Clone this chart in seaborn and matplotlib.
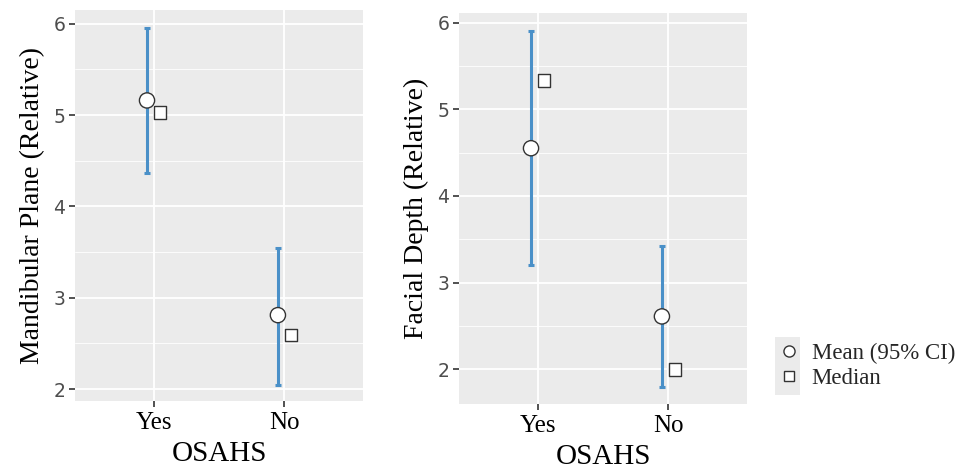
import numpy as np
import pandas as pd
import matplotlib
matplotlib.use("Agg")
import matplotlib.pyplot as plt
import seaborn as sns
from matplotlib.patches import Rectangle
from matplotlib.lines import Line2D

# data
groups = ["Yes", "No"]

mp_mean = [5.16, 2.81]
mp_lo = [4.37, 2.05]
mp_hi = [5.95, 3.55]
mp_median = [5.03, 2.59]

fd_mean = [4.55, 2.61]
fd_lo = [3.20, 1.80]
fd_hi = [5.90, 3.42]
fd_median = [5.33, 2.00]

sns.set_theme(style="darkgrid", rc={
    "axes.facecolor": "#EBEBEB",
    "grid.color": "white",
})
plt.rcParams["font.family"] = ["DejaVu Sans"]

serif = ["Liberation Serif", "DejaVu Serif"]
ci_color = "#4A90C8"
dodge = 0.05

fig = plt.figure(figsize=(9.68, 4.72), dpi=100)
ax1 = fig.add_axes([0.0775, 0.1504, 0.2975, 0.8284])
ax2 = fig.add_axes([0.4742, 0.1441, 0.2975, 0.8284])


def draw_panel(ax, mean, lo, hi, median, ylabel, ylim):
    xs = np.arange(len(groups))
    mean = np.array(mean)
    df = pd.DataFrame({
        "x": np.concatenate([xs - dodge, xs + dodge]),
        "value": np.concatenate([mean, median]),
        "stat": ["Mean (95% CI)"] * len(groups) + ["Median"] * len(groups),
    })
    ax.errorbar(xs - dodge, mean,
                yerr=[mean - np.array(lo), np.array(hi) - mean],
                fmt="none", ecolor=ci_color, elinewidth=2.2,
                capsize=2.5, capthick=2.2, zorder=2)
    sns.scatterplot(data=df, x="x", y="value", style="stat", size="stat",
                    markers={"Mean (95% CI)": "o", "Median": "s"},
                    sizes={"Mean (95% CI)": 120, "Median": 80},
                    color="white", edgecolor="#333333",
                    linewidth=1.0, legend=False, ax=ax, zorder=3)
    ax.set_xlim(-0.6, len(groups) - 0.4)
    ax.set_ylim(*ylim)
    ax.set_xticks(xs)
    ax.set_xticklabels(groups, family=serif, fontsize=18, color="black")
    ax.set_yticks([2, 3, 4, 5, 6])
    ax.set_yticks([2.5, 3.5, 4.5, 5.5], minor=True)
    ax.tick_params(axis="y", labelsize=13.5, labelcolor="#4D4D4D",
                   length=4, width=1.2, color="#333333", pad=3, left=True)
    ax.tick_params(axis="x", length=4, width=1.2, color="#333333", pad=4,
                   bottom=True)
    ax.grid(True, which="major", color="white", linewidth=1.3)
    ax.grid(True, which="minor", color="white", linewidth=0.6)
    ax.set_ylabel(ylabel, family=serif, fontsize=20, color="black",
                  labelpad=6)
    ax.set_xlabel("OSAHS", family=serif, fontsize=21, color="black",
                  labelpad=5)
    for s in ax.spines.values():
        s.set_visible(False)


draw_panel(ax1, mp_mean, mp_lo, mp_hi, mp_median,
           "Mandibular Plane (Relative)", (1.87, 6.15))
draw_panel(ax2, fd_mean, fd_lo, fd_hi, fd_median,
           "Facial Depth (Relative)", (1.6, 6.11))

# legend with grey key background
fig.patches.append(Rectangle((775 / 968, 1 - 395 / 472), 25 / 968, 58 / 472,
                             transform=fig.transFigure, facecolor="#EBEBEB",
                             edgecolor="none", zorder=0))
handles = [
    Line2D([], [], marker="o", linestyle="none", markersize=8,
           markerfacecolor="white", markeredgecolor="#333333"),
    Line2D([], [], marker="s", linestyle="none", markersize=7,
           markerfacecolor="white", markeredgecolor="#333333"),
]
fig.legend(handles, ["Mean (95% CI)", "Median"], loc="center left",
           bbox_to_anchor=(768 / 968, 1 - 366 / 472), frameon=False,
           prop={"family": serif, "size": 16.5}, handlelength=1.0,
           handletextpad=0.5, labelspacing=0.15, borderaxespad=0)

fig.savefig("out.png", dpi=100)
